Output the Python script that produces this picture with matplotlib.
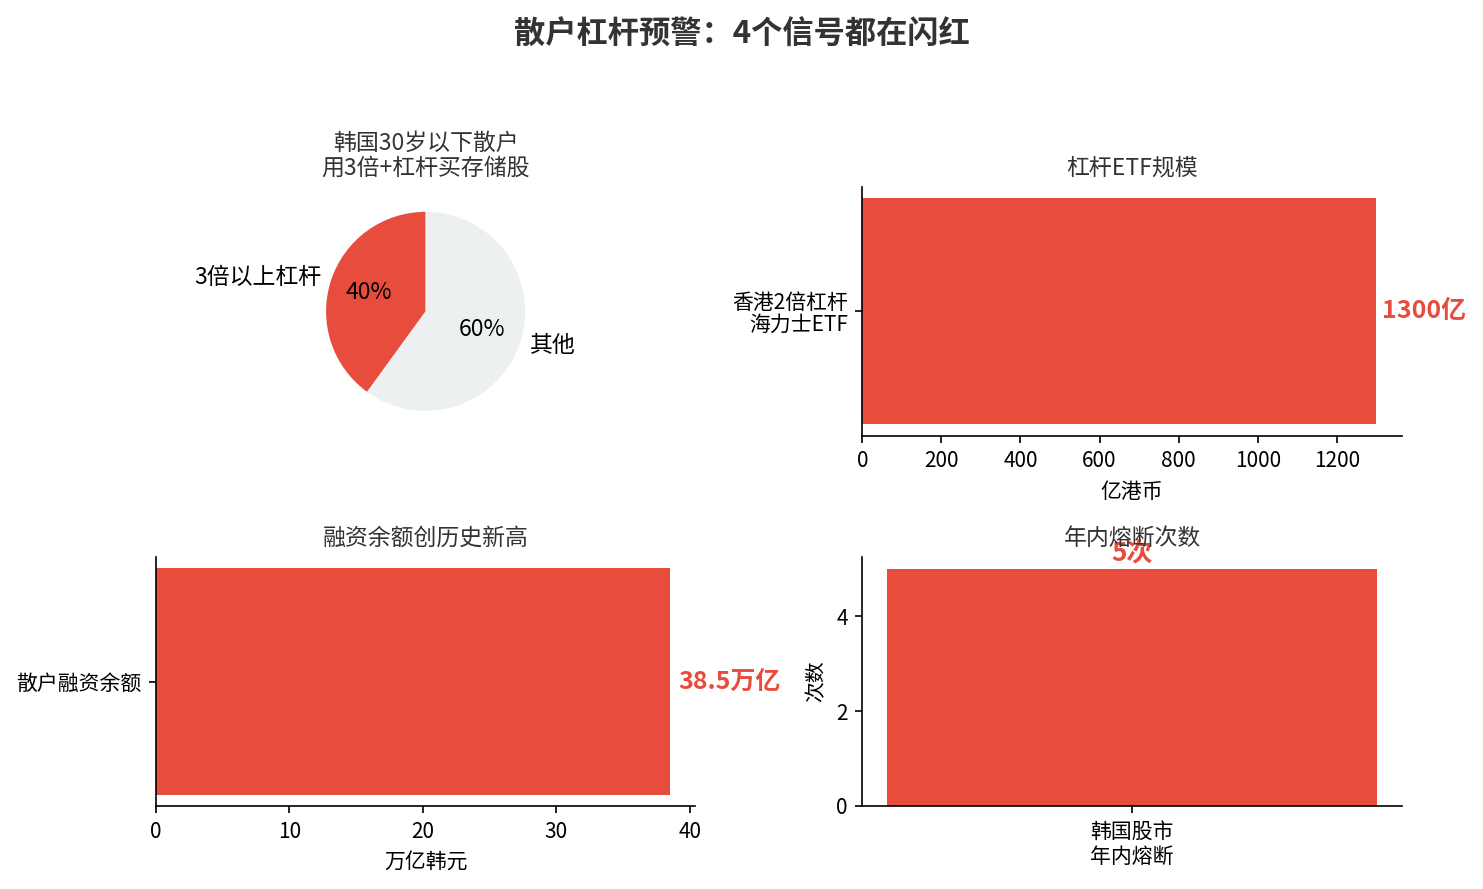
import matplotlib
matplotlib.use("Agg")
import matplotlib.pyplot as plt

plt.rcParams['font.family'] = ['Noto Sans CJK SC', 'DejaVu Sans']
plt.rcParams['axes.unicode_minus'] = False

RED = '#e74c3c'
LIGHT = '#ecf0f1'
TXT = '#333333'

suptitle = '散户杠杆预警：4个信号都在闪红'

pie_title = '韩国30岁以下散户\n用3倍+杠杆买存储股'
pie_labels = ['3倍以上杠杆', '其他']
pie_values = [40, 60]

etf_title = '杠杆ETF规模'
etf_cats = ['香港2倍杠杆\n海力士ETF']
etf_values = [1300]
etf_xlabel = '亿港币'
etf_annot = '1300亿'

margin_title = '融资余额创历史新高'
margin_cats = ['散户融资余额']
margin_values = [38.5]
margin_xlabel = '万亿韩元'
margin_annot = '38.5万亿'

cb_title = '年内熔断次数'
cb_cats = ['韩国股市\n年内熔断']
cb_values = [5]
cb_ylabel = '次数'
cb_annot = '5次'

fig, axes = plt.subplots(2, 2, figsize=(1483/150, 889/150), dpi=150)
fig.subplots_adjust(left=0.105, right=0.9454, top=0.7897, bottom=0.0934,
                    wspace=0.309, hspace=0.488)
fig.suptitle(suptitle, fontsize=15, fontweight='bold', color=TXT, y=0.979)

# Pie
ax = axes[0, 0]
ax.pie(pie_values, labels=pie_labels, colors=[RED, LIGHT], autopct='%1.0f%%',
       startangle=90, textprops={'fontsize': 11})
ax.set_title(pie_title, fontsize=11, color=TXT, linespacing=1.1)

# ETF
ax = axes[0, 1]
ax.barh(etf_cats, etf_values, color=RED)
ax.set_title(etf_title, fontsize=11, color=TXT)
ax.set_xlabel(etf_xlabel, fontsize=10)
ax.set_xlim(0, etf_values[0] * 1.05)
ax.text(etf_values[0] * 1.012, 0, etf_annot, va='center', ha='left',
        fontsize=12, fontweight='bold', color=RED)

# Margin
ax = axes[1, 0]
ax.barh(margin_cats, margin_values, color=RED)
ax.set_title(margin_title, fontsize=11, color=TXT)
ax.set_xlabel(margin_xlabel, fontsize=10)
ax.set_xlim(0, margin_values[0] * 1.05)
ax.text(margin_values[0] * 1.017, 0, margin_annot, va='center', ha='left',
        fontsize=12, fontweight='bold', color=RED)

# Circuit breaker
ax = axes[1, 1]
ax.bar(cb_cats, cb_values, color=RED)
ax.set_title(cb_title, fontsize=11, color=TXT)
ax.set_ylabel(cb_ylabel, fontsize=10)
ax.set_ylim(0, cb_values[0] * 1.05)
ax.text(0, cb_values[0] * 1.012, cb_annot, ha='center', va='bottom',
        fontsize=12.5, fontweight='bold', color=RED)

for a in [axes[0, 1], axes[1, 0], axes[1, 1]]:
    a.spines['top'].set_visible(False)
    a.spines['right'].set_visible(False)
    a.tick_params(labelsize=10)
for lbl in axes[0, 1].get_yticklabels():
    lbl.set_linespacing(1.0)

fig.savefig('out.png', dpi=150)
